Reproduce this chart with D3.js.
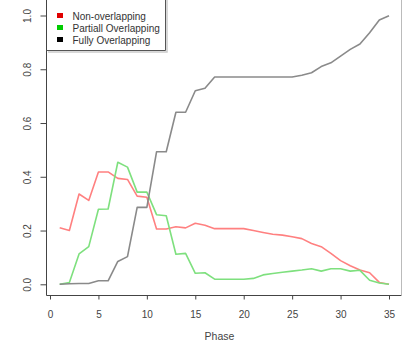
<!DOCTYPE html>
<html><head><meta charset="utf-8">
<script src="https://cdn.jsdelivr.net/npm/d3@7"></script>
<style>html,body{margin:0;padding:0;background:#fff;}svg{display:block;}</style>
</head><body>
<svg id="c" width="402" height="341"></svg>
<script>
const phases = d3.range(1, 36);
const nonOverlapping = [0.21,0.20,0.336,0.312,0.418,0.418,0.394,0.39,0.328,0.324,0.206,0.206,0.214,0.21,0.227,0.22,0.207,0.207,0.207,0.207,0.20,0.193,0.186,0.183,0.177,0.17,0.152,0.14,0.115,0.088,0.069,0.053,0.043,0.007,0.0];
const partialOverlapping = [0.0,0.007,0.113,0.14,0.279,0.28,0.454,0.436,0.343,0.343,0.259,0.255,0.112,0.115,0.041,0.043,0.019,0.019,0.019,0.019,0.022,0.035,0.04,0.045,0.049,0.053,0.058,0.049,0.058,0.058,0.049,0.052,0.015,0.005,0.0];
const fullyOverlapping = [0.0,0.002,0.003,0.003,0.013,0.013,0.085,0.103,0.286,0.286,0.493,0.493,0.64,0.64,0.72,0.729,0.771,0.771,0.771,0.771,0.771,0.771,0.771,0.771,0.771,0.778,0.787,0.81,0.824,0.849,0.874,0.894,0.936,0.983,0.999];
const seriesNames = ["Non-overlapping","Partiall Overlapping","Fully Overlapping"];
const xTicks = [0,5,10,15,20,25,30,35];
const yTicks = [0.0,0.2,0.4,0.6,0.8,1.0];

const svg = d3.select("#c");
const x = d3.scaleLinear().domain([0,35]).range([50,389]);
const y = d3.scaleLinear().domain([0,1]).range([284.3,15.5]);
const font = "Liberation Sans, Arial, sans-serif";

// plot box (left, bottom), light right edge
svg.append("path").attr("d","M46.5,0 V295.5 H401.5")
  .attr("fill","none").attr("stroke","#444").attr("stroke-width",1);
svg.append("path").attr("d","M401.5,0 V295.5")
  .attr("fill","none").attr("stroke","#bbb").attr("stroke-width",1);

const series = [
  {vals: nonOverlapping, color: "#ff8080", key: "#e00000"},
  {vals: partialOverlapping, color: "#7ee07e", key: "#00cc00"},
  {vals: fullyOverlapping, color: "#8a8a8a", key: "#000000"}
];
const line = d3.line().x((d,i)=>x(phases[i])).y(d=>y(d));
series.forEach(s=>{
  svg.append("path").datum(s.vals).attr("d",line)
    .attr("fill","none").attr("stroke",s.color).attr("stroke-width",1.6)
    .attr("stroke-linejoin","round");
});

// x axis
const xa = svg.append("g").attr("transform","translate(0,295.5)")
  .call(d3.axisBottom(x).tickValues(xTicks).tickSize(4).tickPadding(11).tickFormat(d3.format("d")));
xa.select(".domain").remove();
xa.selectAll("line").attr("stroke","#444");
xa.selectAll("text").attr("font-family",font).attr("font-size",10).attr("fill","#444");

// y axis
const ya = svg.append("g").attr("transform","translate(46.5,0)")
  .call(d3.axisLeft(y).tickValues(yTicks).tickSize(6).tickFormat(d3.format(".1f")));
ya.select(".domain").remove();
ya.selectAll("line").attr("stroke","#444");
ya.selectAll("text").attr("font-family",font).attr("font-size",10).attr("fill","#444")
  .attr("text-anchor","middle").attr("x",0).attr("dy",0)
  .attr("transform","translate(-16,0) rotate(-90)");

svg.append("text").attr("x",x(17.5)).attr("y",340).attr("text-anchor","middle")
  .attr("font-family",font).attr("font-size",10.5).attr("fill","#444").text("Phase");

// legend
const lg = svg.append("g");
lg.append("path").attr("d","M167,0 V52 H48").attr("fill","none").attr("stroke","#ccc").attr("stroke-width",1.5);
lg.append("path").attr("d","M46.5,50.5 H165.5 V0").attr("fill","none").attr("stroke","#555").attr("stroke-width",1);
series.forEach((s,i)=>{
  const cy = 16 + i*12;
  lg.append("rect").attr("x",57).attr("y",cy-3).attr("width",6).attr("height",5).attr("fill",s.key);
  lg.append("text").attr("x",72.5).attr("y",cy+3.5).attr("font-family",font).attr("font-size",10)
    .attr("fill","#333").text(seriesNames[i]);
});
</script>
</body></html>
